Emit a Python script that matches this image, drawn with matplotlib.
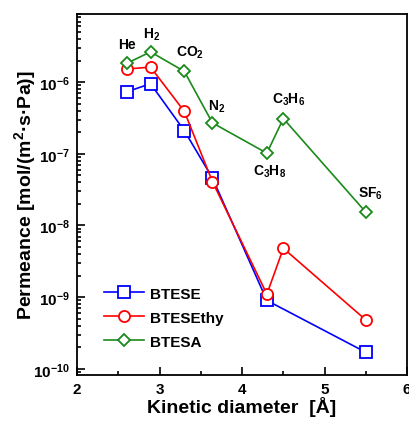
import numpy as np
import matplotlib
matplotlib.use('Agg')
import matplotlib.pyplot as plt
from matplotlib.ticker import LogLocator, MultipleLocator, NullFormatter

plt.rcParams['font.family'] = ['Liberation Sans', 'DejaVu Sans']
plt.rcParams['font.weight'] = 'bold'
plt.rcParams['mathtext.fontset'] = 'custom'
plt.rcParams['mathtext.rm'] = 'Liberation Sans:bold'
plt.rcParams['mathtext.bf'] = 'Liberation Sans:bold'
plt.rcParams['mathtext.default'] = 'bf'

# kinetic diameters [A]
gases = ['He', 'H$_2$', 'CO$_2$', 'N$_2$', 'C$_3$H$_8$', 'C$_3$H$_6$', 'SF$_6$']
diam = [2.6, 2.89, 3.3, 3.64, 4.3, 4.5, 5.5]

# permeances [mol/(m2 s Pa)]
btese_x = [2.6, 2.89, 3.3, 3.64, 4.3, 5.5]
btese = [7.3e-7, 9.5e-7, 2.1e-7, 4.6e-8, 9.0e-10, 1.7e-10]
btesethy = [1.52e-6, 1.62e-6, 3.9e-7, 4.1e-8, 1.1e-9, 4.8e-9, 4.8e-10]
btesa = [1.82e-6, 2.64e-6, 1.41e-6, 2.7e-7, 1.02e-7, 3.1e-7, 1.53e-8]

# label offsets (points) from the BTESA markers
offsets = [(0, 14), (1, 13), (4, 14), (3, 12), (2, -13), (4, 14), (3, 14)]

fig = plt.figure(figsize=(4.1, 4.27), dpi=100)
ax = fig.add_axes([0.188, 0.1194, 0.805, 0.8462])

ax.plot(btese_x, btese, color='blue', marker='s', markersize=8, markerfacecolor='white',
        markeredgewidth=1.3, linewidth=1.2, label='BTESE')
ax.plot(diam, btesethy, color='red', marker='o', markersize=8, markerfacecolor='white',
        markeredgewidth=1.3, linewidth=1.2, label='BTESEthy')
ax.plot(diam, btesa, color='#1a8a1a', marker='D', markersize=6, markerfacecolor='white',
        markeredgewidth=1.3, linewidth=1.2, label='BTESA')

for name, x, y, off in zip(gases, diam, btesa, offsets):
    ax.annotate(name, (x, y), xytext=off, textcoords='offset points',
                ha='center', va='center', fontsize=10, fontweight='bold')

ax.set_yscale('log')
ax.set_xlim(2, 6)
ax.set_ylim(8.2e-11, 9e-6)
ax.xaxis.set_major_locator(MultipleLocator(1))
ax.xaxis.set_minor_locator(MultipleLocator(0.5))
ax.yaxis.set_major_locator(LogLocator(base=10, numticks=20))
ax.yaxis.set_minor_locator(LogLocator(base=10, subs=np.arange(2, 10), numticks=20))
ax.yaxis.set_minor_formatter(NullFormatter())

ax.tick_params(which='both', direction='in', top=False, right=False, labelsize=11, width=1.2)
ax.tick_params(which='major', length=6, pad=5)
ax.tick_params(which='minor', length=3)
for s in ax.spines.values():
    s.set_linewidth(1.3)

ax.set_xlabel('Kinetic diameter  [Å]', fontsize=14, fontweight='bold')
ax.set_ylabel('Permeance [mol/(m$^2$·s·Pa)]', fontsize=14, fontweight='bold')
ax.xaxis.set_label_coords(0.5, -0.058)
ax.yaxis.set_label_coords(-0.118, 0.5)

ax.legend(loc='lower left', bbox_to_anchor=(0.04, 0.035), frameon=False, fontsize=11,
          handlelength=2.6, labelspacing=0.65, handletextpad=0.4)

fig.savefig('out.png', dpi=100)
